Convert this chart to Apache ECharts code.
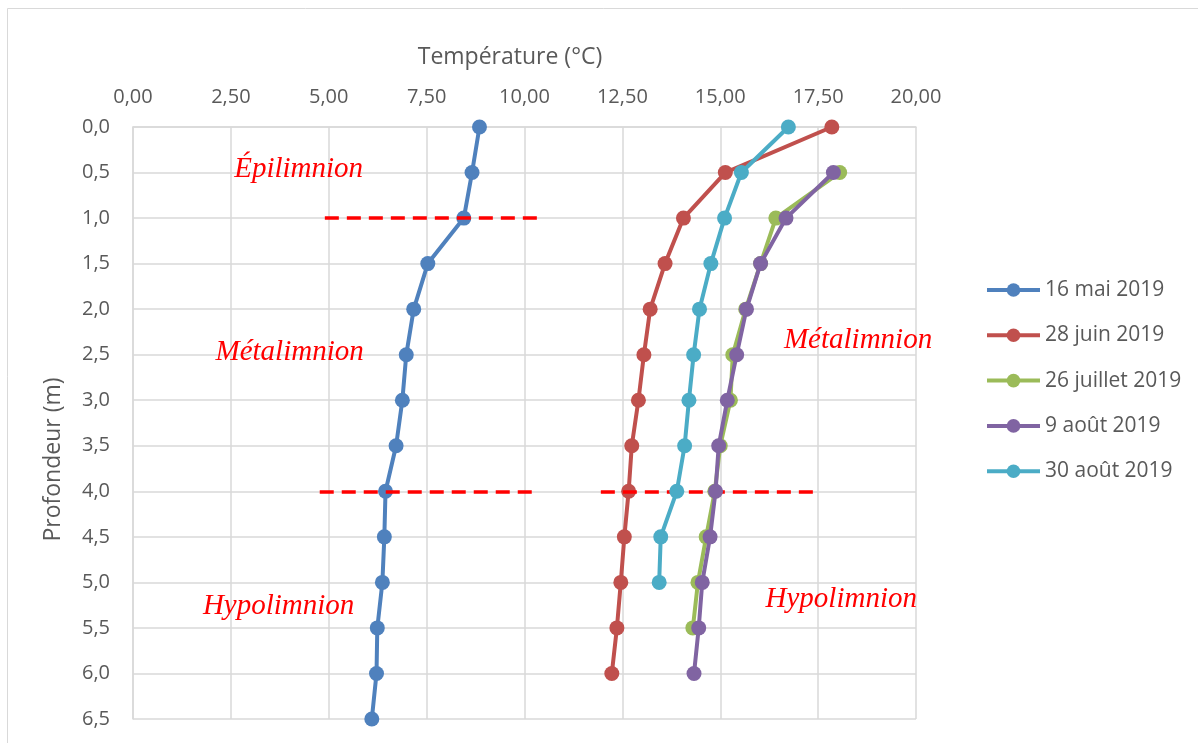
<!DOCTYPE html>
<html>
<head>
<meta charset="utf-8">
<script src="https://cdn.jsdelivr.net/npm/echarts@6/dist/echarts.min.js"></script>
<style>
  html, body { margin: 0; padding: 0; background: #ffffff; }
  #chart { width: 1198px; height: 743px; }
</style>
</head>
<body>
<div id="chart"></div>
<script>
// Depths (m)
const depths = [0.0, 0.5, 1.0, 1.5, 2.0, 2.5, 3.0, 3.5, 4.0, 4.5, 5.0, 5.5, 6.0, 6.5];
// Temperatures (°C) per campaign, aligned with depths (null = no measurement)
const mai16     = [8.85, 8.66, 8.45, 7.53, 7.17, 6.98, 6.88, 6.72, 6.45, 6.42, 6.37, 6.24, 6.22, 6.10];
const juin28    = [17.85, 15.13, 14.06, 13.59, 13.21, 13.05, 12.91, 12.74, 12.66, 12.55, 12.46, 12.36, 12.23, null];
const juillet26 = [null, 18.05, 16.42, 16.03, 15.65, 15.32, 15.26, 15.00, 14.86, 14.64, 14.43, 14.30, null, null];
const aout9     = [null, 17.89, 16.68, 16.03, 15.67, 15.42, 15.18, 14.96, 14.88, 14.74, 14.54, 14.45, 14.33, null];
const aout30    = [16.74, 15.54, 15.11, 14.76, 14.47, 14.32, 14.20, 14.09, 13.89, 13.48, 13.44, null, null, null];
const seriesNames = ['16 mai 2019', '28 juin 2019', '26 juillet 2019', '9 août 2019', '30 août 2019'];
const seriesValues = [mai16, juin28, juillet26, aout9, aout30];
const seriesColors = ['#4F81BD', '#C0504D', '#9BBB59', '#8064A2', '#4BACC6'];
// Layer boundary annotations: [depth, xStart, xEnd]
const boundaries = [[1.0, 4.90, 10.34], [4.0, 4.77, 10.19], [4.0, 11.95, 17.42]];
// Layer labels: [text, temperature, depth]
const layerLabels = [
  ['Épilimnion', 4.23, 0.47],
  ['Métalimnion', 4.00, 2.47],
  ['Hypolimnion', 3.72, 5.26],
  ['Métalimnion', 18.52, 2.34],
  ['Hypolimnion', 18.09, 5.19]
];

const txt = '#595959';
const gridCol = '#d9d9d9';
const tickFont = 'Open Sans';

const chart = echarts.init(document.getElementById('chart'), null, { renderer: 'canvas' });

const lineSeries = seriesNames.map((name, i) => ({
  name: name,
  type: 'line',
  data: seriesValues[i].map((t, k) => (t === null ? null : [t, depths[k]])).filter(p => p !== null),
  symbol: 'circle',
  symbolSize: 15,
  color: seriesColors[i],
  lineStyle: { width: 4, color: seriesColors[i] },
  itemStyle: { color: seriesColors[i] },
  emphasis: { disabled: true },
  animation: false,
  z: 2 + i
}));

const annotationSeries = {
  name: 'annotations',
  type: 'line',
  data: [],
  silent: true,
  animation: false,
  z: 20,
  markLine: {
    silent: true,
    symbol: ['none', 'none'],
    animation: false,
    label: { show: false },
    lineStyle: { color: '#FF0000', width: 3.5, type: [14, 8] },
    data: boundaries.map(b => [{ coord: [b[1], b[0]] }, { coord: [b[2], b[0]] }])
  },
  markPoint: {
    silent: true,
    animation: false,
    symbol: 'circle',
    symbolSize: 0,
    label: {
      show: true,
      position: 'inside',
      color: '#FF0000',
      fontFamily: 'Liberation Serif',
      fontStyle: 'italic',
      fontSize: 29,
      formatter: p => p.name
    },
    data: layerLabels.map(l => ({ name: l[0], coord: [l[1], l[2]] }))
  }
};

chart.setOption({
  backgroundColor: '#ffffff',
  animation: false,
  graphic: [{
    type: 'rect',
    shape: { x: 7.5, y: 8.5, width: 1300, height: 900 },
    style: { fill: 'none', stroke: '#d9d9d9', lineWidth: 1 },
    silent: true,
    z: -10
  }],
  grid: { left: 133, top: 127, right: 282, bottom: 24, containLabel: false },
  legend: {
    data: seriesNames,
    orient: 'vertical',
    left: 985,
    top: 278,
    padding: 0,
    itemWidth: 53,
    itemHeight: 17,
    itemGap: 21.3,
    lineStyle: { width: 4 },
    textStyle: { color: txt, fontSize: 21, fontFamily: tickFont, lineHeight: 24 }
  },
  xAxis: {
    type: 'value',
    position: 'top',
    min: 0,
    max: 20,
    interval: 2.5,
    name: 'Température (°C)',
    nameLocation: 'middle',
    nameGap: 58,
    nameTextStyle: { color: txt, fontSize: 23, fontFamily: tickFont, padding: [0, 29, 0, 0] },
    axisLine: { show: true, lineStyle: { color: gridCol, width: 1.5 } },
    axisTick: { show: false },
    axisLabel: {
      color: txt, fontSize: 20, fontFamily: tickFont, margin: 20,
      formatter: v => v.toFixed(2).replace('.', ',')
    },
    splitLine: { show: true, lineStyle: { color: gridCol, width: 1.5 } }
  },
  yAxis: {
    type: 'value',
    inverse: true,
    min: 0,
    max: 6.5,
    interval: 0.5,
    name: 'Profondeur (m)',
    nameLocation: 'middle',
    nameGap: 68,
    nameRotate: 90,
    nameTextStyle: { color: txt, fontSize: 23, fontFamily: tickFont, padding: [0, 73, 0, 0] },
    axisLine: { show: true, lineStyle: { color: gridCol, width: 1.5 } },
    axisTick: { show: false },
    axisLabel: {
      color: txt, fontSize: 20, fontFamily: tickFont, margin: 23,
      formatter: v => v.toFixed(1).replace('.', ',')
    },
    splitLine: { show: true, lineStyle: { color: gridCol, width: 1.5 } }
  },
  series: lineSeries.concat([annotationSeries])
});
</script>
</body>
</html>
